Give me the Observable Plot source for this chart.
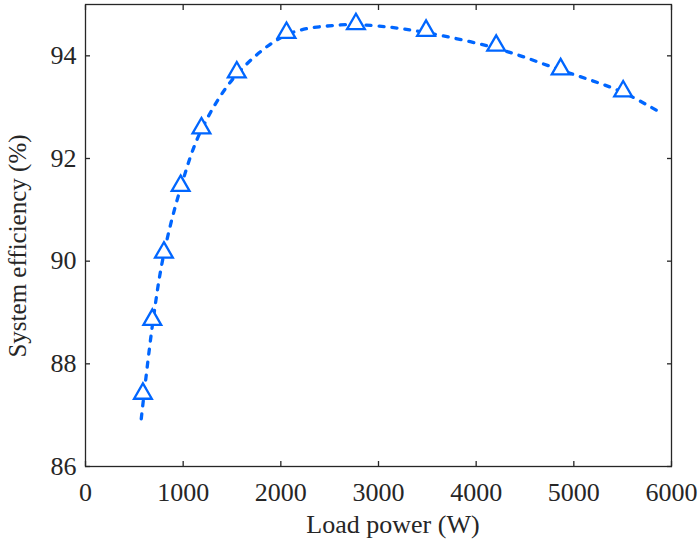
<!DOCTYPE html>
<html><head><meta charset="utf-8">
<script src="https://cdn.jsdelivr.net/npm/d3@7"></script>
<script src="https://cdn.jsdelivr.net/npm/@observablehq/plot@0.6"></script>
<style>body{margin:0;background:#fff}</style>
</head><body><div id="chart"></div>
<script>
const markerPower = [588, 684, 803, 974, 1187, 1549, 2058, 2769, 3487, 4205, 4865, 5505];
const markerEff = [87.42, 88.86, 90.17, 91.47, 92.59, 93.68, 94.45, 94.62, 94.49, 94.20, 93.74, 93.31];
const fitPower = [571, 690, 800, 975, 1185, 1550, 2060, 2600, 3000, 3490, 4200, 4870, 5500, 5908];
const fitEff = [86.93, 88.82, 90.12, 91.43, 92.55, 93.64, 94.41, 94.60, 94.58, 94.45, 94.15, 93.72, 93.29, 92.87];
const xTicks = [0, 1000, 2000, 3000, 4000, 5000, 6000];
const yTicks = [86, 88, 90, 92, 94];
const xLabel = "Load power (W)";
const yLabel = "System efficiency (%)";

const markers = markerPower.map((x, i) => ({x, y: markerEff[i]}));
const fit = fitPower.map((x, i) => ({x, y: fitEff[i]}));
const blue = "#0066ff";
const axisColor = "#262626";
const font = "'Liberation Serif', 'Times New Roman', serif";
const fmt = d3.format("d");

const chart = Plot.plot({
  width: 699, height: 540,
  marginLeft: 85, marginRight: 28, marginTop: 4, marginBottom: 74,
  style: {fontFamily: font, fontSize: "26px", color: axisColor, background: "#fff"},
  x: {domain: [0, 6000]},
  y: {domain: [86, 95]},
  marks: [
    Plot.line(fit, {x: "x", y: "y", curve: "catmull-rom", stroke: blue, strokeWidth: 3.3, strokeDasharray: "5,8", strokeLinecap: "round"}),
    Plot.dot(markers, {x: "x", y: "y", symbol: "triangle", r: 6.6, stroke: blue, strokeWidth: 2.3, fill: "white"}),
    Plot.frame({stroke: axisColor, strokeWidth: 1.3}),
    Plot.axisX(xTicks, {anchor: "bottom", tickSize: 5, tickPadding: 11, tickFormat: fmt, label: null, fontSize: 26, stroke: axisColor, fill: axisColor}),
    Plot.axisX(xTicks, {anchor: "top", tickSize: 5, tickFormat: () => "", label: null, stroke: axisColor}),
    Plot.axisY(yTicks, {anchor: "left", tickSize: 5, tickPadding: 4, tickFormat: fmt, label: null, fontSize: 26, stroke: axisColor, fill: axisColor}),
    Plot.axisY(yTicks, {anchor: "right", tickSize: 5, tickFormat: () => "", label: null, stroke: axisColor})
  ]
});
const svg = d3.select(chart);
// flip tick marks so they point inward
svg.selectAll("g[aria-label$='-axis tick'] path").each(function() {
  const t = this.getAttribute("transform") || "";
  this.setAttribute("transform", t + " scale(-1)");
});
svg.selectAll("g[aria-label$='-axis tick']").attr("stroke-width", 1.3);
svg.append("text").attr("x", 393).attr("y", 533).attr("text-anchor", "middle")
  .attr("font-family", font).attr("font-size", 26).attr("fill", axisColor).text(xLabel);
svg.append("text").attr("transform", "translate(26,246) rotate(-90)").attr("text-anchor", "middle")
  .attr("font-family", font).attr("font-size", 25).attr("fill", axisColor).text(yLabel);
document.getElementById("chart").appendChild(chart);
</script>
</body></html>
